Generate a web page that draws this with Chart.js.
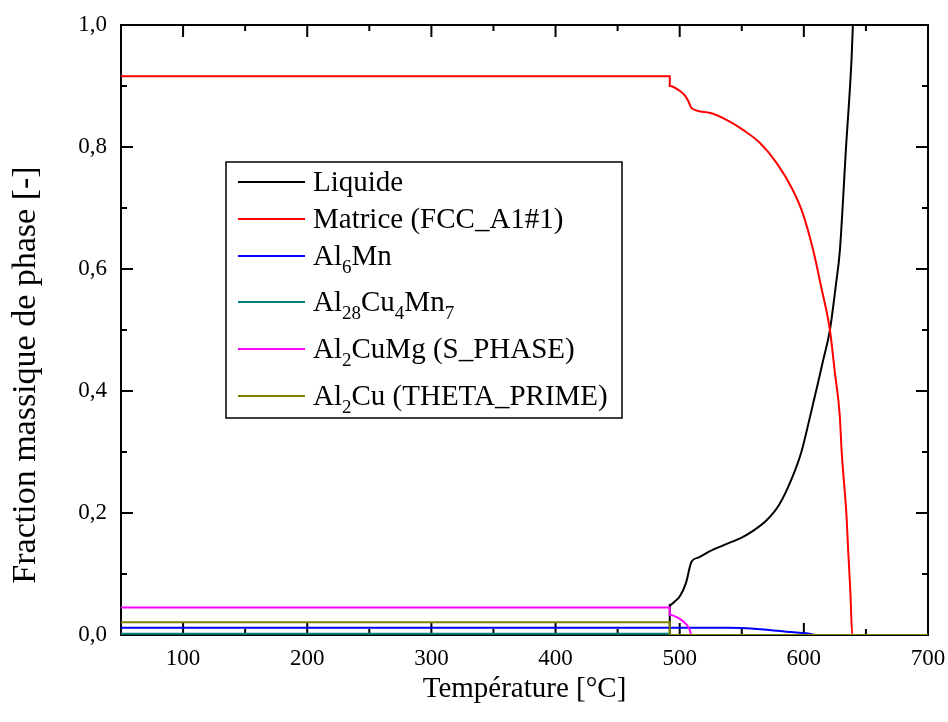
<!DOCTYPE html>
<html>
<head>
<meta charset="utf-8">
<script src="https://cdn.jsdelivr.net/npm/chart.js@4.4.0/dist/chart.umd.min.js"></script>
<style>
  html, body { margin: 0; padding: 0; background: #fff; }
  #wrap { width: 948px; height: 722px; }
</style>
</head>
<body>
<div id="wrap"><canvas id="phaseChart" width="948" height="722"></canvas></div>
<script>
// values (T in °C, mass fraction)
const liquideT = [50, 492, 492, 496, 500, 505, 509.5, 515, 524, 535, 551, 560, 570, 580, 590, 598, 605, 611, 615.5, 621, 626, 629, 634, 638.4, 639.5];
const liquideV = [0, 0, 0.049, 0.055, 0.063, 0.085, 0.12, 0.127, 0.137, 0.147, 0.161, 0.172, 0.188, 0.213, 0.255, 0.3, 0.358, 0.41, 0.45, 0.5, 0.577, 0.63, 0.8, 0.943, 1.0];

const matriceT = [50, 492, 492, 498, 504, 507, 509.5, 524, 540, 551, 564.5, 578, 591, 599, 607.5, 614, 621, 625, 629, 630.4, 634.4, 635.7, 637.5, 639, 700];
const matriceV = [0.916, 0.916, 0.9, 0.895, 0.885, 0.875, 0.864, 0.856, 0.842, 0.828, 0.807, 0.774, 0.73, 0.692, 0.631, 0.57, 0.5, 0.43, 0.358, 0.303, 0.194, 0.139, 0.07, 0, 0];

const al6mnT = [50, 537, 550, 565, 578, 590, 602, 610, 700];
const al6mnV = [0.012, 0.012, 0.0115, 0.0095, 0.0068, 0.0048, 0.0028, 0, 0];

const al28T = [50, 492, 492, 700];
const al28V = [0.002, 0.002, 0, 0];

const sPhaseT = [50, 492, 492, 498, 503, 506, 508, 509.4, 700];
const sPhaseV = [0.045, 0.045, 0.033, 0.029, 0.022, 0.016, 0.009, 0, 0];

const thetaT = [50, 492, 492, 700];
const thetaV = [0.021, 0.021, 0, 0];

// {n} = subscript
const seriesLabels = ['Liquide', 'Matrice (FCC_A1#1)', 'Al{6}Mn', 'Al{28}Cu{4}Mn{7}', 'Al{2}CuMg (S_PHASE)', 'Al{2}Cu (THETA_PRIME)'];
const seriesColors = ['#000000', '#ff0000', '#0000ff', '#008080', '#ff00ff', '#808000'];
const smoothSeries = [true, true, true, false, true, false];

const xTickValues = [50, 100, 150, 200, 250, 300, 350, 400, 450, 500, 550, 600, 650, 700];
const yTickValues = [0, 0.1, 0.2, 0.3, 0.4, 0.5, 0.6, 0.7, 0.8, 0.9, 1.0];

const xTitle = 'Température [°C]';
const yTitle = 'Fraction massique de phase [-]';

const serif = "'Liberation Serif', 'Times New Roman', serif";

function toPoints(ts, vs) {
  return ts.map((t, i) => ({ x: t, y: vs[i] }));
}

const allSeries = [
  [liquideT, liquideV],
  [matriceT, matriceV],
  [al6mnT, al6mnV],
  [al28T, al28V],
  [sPhaseT, sPhaseV],
  [thetaT, thetaV]
];

const datasets = allSeries.map((s, i) => ({
  label: seriesLabels[i],
  data: toPoints(s[0], s[1]),
  borderColor: seriesColors[i],
  backgroundColor: seriesColors[i],
  borderWidth: 2,
  pointRadius: 0,
  cubicInterpolationMode: smoothSeries[i] ? 'monotone' : 'default',
  tension: 0,
  fill: false,
  order: allSeries.length - i // later series drawn on top
}));

const isMajorX = v => v % 100 === 0;
const isMajorY = v => Math.round(v * 10) % 2 === 0;

// frame + inward ticks on all four sides
const framePlugin = {
  id: 'frame',
  beforeDatasetsDraw(chart) {
    const ctx = chart.ctx;
    const a = chart.chartArea;
    const xs = chart.scales.x, ys = chart.scales.y;
    ctx.save();
    ctx.strokeStyle = '#000';
    ctx.lineWidth = 2;
    ctx.strokeRect(a.left, a.top, a.right - a.left, a.bottom - a.top);
    ctx.beginPath();
    xs.ticks.forEach(t => {
      const px = xs.getPixelForValue(t.value);
      const len = isMajorX(t.value) ? 12 : 6;
      ctx.moveTo(px, a.bottom); ctx.lineTo(px, a.bottom - len);
      ctx.moveTo(px, a.top); ctx.lineTo(px, a.top + len);
    });
    ys.ticks.forEach(t => {
      const py = ys.getPixelForValue(t.value);
      const len = isMajorY(t.value) ? 12 : 6;
      ctx.moveTo(a.left, py); ctx.lineTo(a.left + len, py);
      ctx.moveTo(a.right, py); ctx.lineTo(a.right - len, py);
    });
    ctx.stroke();
    ctx.restore();
  },
  afterDraw(chart) {
    const ctx = chart.ctx;
    const a = chart.chartArea;
    ctx.save();
    ctx.fillStyle = '#000';
    ctx.textAlign = 'center';
    ctx.textBaseline = 'middle';
    ctx.font = '29px ' + serif;
    ctx.fillText(xTitle, (a.left + a.right) / 2, 689);
    ctx.font = '34px ' + serif;
    ctx.translate(26, 375);
    ctx.rotate(-Math.PI / 2);
    ctx.fillText(yTitle, 0, 0);
    ctx.restore();
    drawLegend(ctx);
  }
};

function drawRich(ctx, text, x, baseY) {
  const parts = text.split(/(\{[^}]*\})/);
  parts.forEach(p => {
    if (!p) return;
    if (p[0] === '{') {
      const s = p.slice(1, -1);
      ctx.font = '19px ' + serif;
      ctx.fillText(s, x, baseY + 8);
      x += ctx.measureText(s).width;
    } else {
      ctx.font = '29px ' + serif;
      ctx.fillText(p, x, baseY);
      x += ctx.measureText(p).width;
    }
  });
}

function drawLegend(ctx) {
  const rowY = [182, 219, 256, 302, 349, 396];
  ctx.save();
  ctx.strokeStyle = '#000';
  ctx.lineWidth = 1.5;
  ctx.strokeRect(226, 162, 396, 256);
  ctx.textAlign = 'left';
  ctx.textBaseline = 'alphabetic';
  seriesLabels.forEach((lab, i) => {
    const y = rowY[i];
    ctx.strokeStyle = seriesColors[i];
    ctx.lineWidth = 2;
    ctx.beginPath();
    ctx.moveTo(238, y);
    ctx.lineTo(305, y);
    ctx.stroke();
    ctx.fillStyle = '#000';
    drawRich(ctx, lab, 313, y + 9);
  });
  ctx.restore();
}

new Chart(document.getElementById('phaseChart').getContext('2d'), {
  type: 'line',
  data: { datasets },
  options: {
    responsive: false,
    animation: false,
    devicePixelRatio: 1,
    layout: { padding: { top: 25, right: 20, left: 0, bottom: 0 } },
    plugins: {
      legend: { display: false },
      tooltip: { enabled: false }
    },
    scales: {
      x: {
        type: 'linear',
        min: 50,
        max: 700,
        afterBuildTicks: scale => { scale.ticks = xTickValues.map(v => ({ value: v })); },
        afterFit: scale => { scale.height = 87; scale.paddingLeft = 0; scale.paddingRight = 0; },
        grid: { display: false, drawTicks: false },
        border: { display: false },
        ticks: {
          autoSkip: false,
          maxRotation: 0,
          padding: 10,
          color: '#000',
          font: { family: serif, size: 23 },
          callback: v => isMajorX(v) ? String(v) : ''
        }
      },
      y: {
        type: 'linear',
        min: 0,
        max: 1,
        afterBuildTicks: scale => { scale.ticks = yTickValues.map(v => ({ value: v })); },
        afterFit: scale => { scale.width = 121; scale.paddingTop = 0; scale.paddingBottom = 0; },
        grid: { display: false, drawTicks: false },
        border: { display: false },
        ticks: {
          autoSkip: false,
          padding: 14,
          color: '#000',
          font: { family: serif, size: 23 },
          callback: v => isMajorY(v) ? v.toFixed(1).replace('.', ',') : ''
        }
      }
    }
  },
  plugins: [framePlugin]
});
</script>
</body>
</html>
